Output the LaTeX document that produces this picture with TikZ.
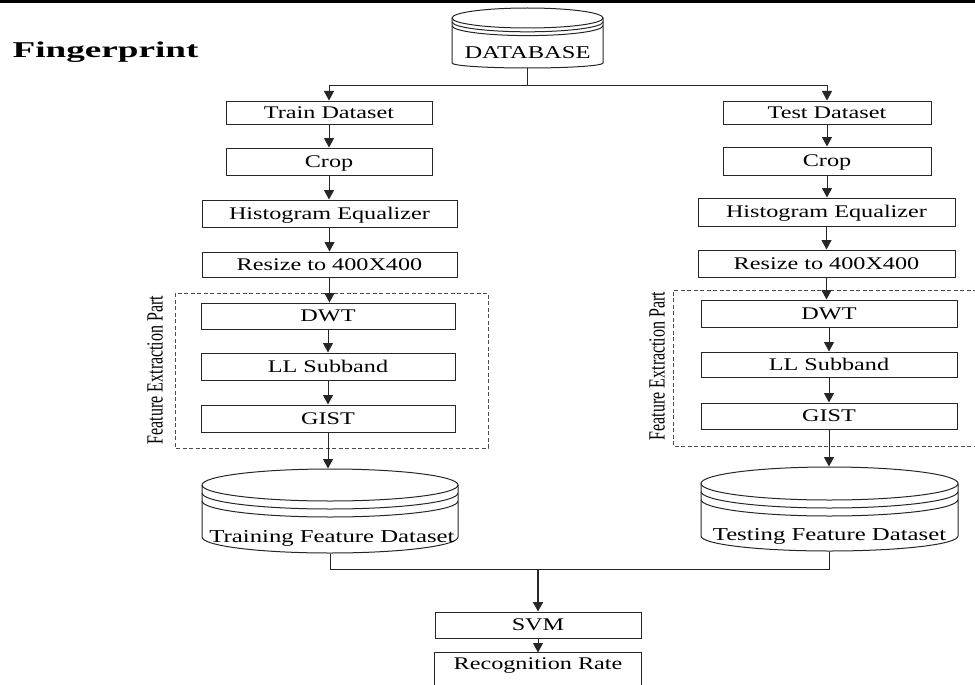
\documentclass[tikz,border=0pt]{standalone}
\usepackage{fontspec}
\setmainfont{Liberation Serif}[FakeStretch=1.36]
\newfontfamily\plainserif{Liberation Serif}
\usetikzlibrary{arrows.meta}
\newcommand\drawcyl[7]{% cx rx yc ry yb ryb d
  \draw (#1-#2,#3) -- (#1-#2,#5) arc[start angle=180,end angle=0,x radius=#2,y radius=#6] -- (#1+#2,#3);
  \draw (#1,#3) ellipse[x radius=#2,y radius=#4];
  \draw (#1-#2,#3+#7) arc[start angle=180,end angle=0,x radius=#2,y radius=#4];
  \draw (#1-#2,#3+2*#7) arc[start angle=180,end angle=0,x radius=#2,y radius=#4];
}
\begin{document}
\begin{tikzpicture}[x=1pt,y=-1pt,
  line width=1pt, draw=black!85,
  box/.style={draw, inner sep=0pt, font=\fontsize{17.8}{20}\selectfont, text height=11.8pt, text depth=0pt},
  arr/.style={-{Triangle[width=10pt,length=9.5pt]}},
  fep/.style={draw=black!70, dash pattern=on 4pt off 2.5pt, line width=0.9pt},
  cyltext/.style={font=\fontsize{18.2}{20}\selectfont, anchor=base, inner sep=0pt},
  lbl/.style={font=\plainserif\fontsize{16}{18}\selectfont, rotate=90, yscale=1.45, inner sep=0pt},
  cylnode/.style={inner sep=0pt, minimum height=84pt},
]
\useasboundingbox (0,0) rectangle (975,685);
\fill (0,0) rectangle (975,3.3);

% title
\node[anchor=base west, font=\bfseries\fontsize{22.6}{26}\selectfont, xscale=1.21, inner sep=0pt] (fp) at (12,58) {Fingerprint};

% database
\drawcyl{527.5}{75.5}{18}{10}{63}{5}{3.8}
\node[inner sep=0pt, minimum width=151pt, minimum height=60pt] (db) at (527.5,38) {};
\node[cyltext, font=\fontsize{18}{20}\selectfont] (dbt) at (527.5,59) {DATABASE};

% left column
\node[box, minimum width=206pt, minimum height=23pt] (train) at (329,112.5) {Train Dataset};
\node[box, minimum width=206pt, minimum height=27pt] (crop1) at (329,161.5) {Crop};
\node[box, minimum width=255pt, minimum height=27pt] (hist1) at (329.5,213.5) {Histogram Equalizer};
\node[box, minimum width=255pt, minimum height=25pt] (res1) at (329.5,264.5) {Resize to 400X400};
\draw[fep] (175,293) rectangle (488,448);
\node[lbl] (fl1) at (155,370) {Feature Extraction Part};
\node[box, minimum width=254pt, minimum height=26pt] (dwt1) at (328,316) {DWT};
\node[box, minimum width=254pt, minimum height=27pt] (ll1) at (328,366.5) {LL Subband};
\node[box, minimum width=254pt, minimum height=27pt] (gist1) at (328,418.5) {GIST};
\drawcyl{330}{128}{485}{16}{537}{16}{8}
\node[cylnode, minimum width=256pt] (tcyl) at (330,511) {};
\node[cyltext] (tct) at (332,542) {Training Feature Dataset};

% right column
\node[box, minimum width=208pt, minimum height=23pt] (test) at (827,112.5) {Test Dataset};
\node[box, minimum width=208pt, minimum height=28pt] (crop2) at (827,161) {Crop};
\node[box, minimum width=257pt, minimum height=28pt] (hist2) at (826.5,212) {Histogram Equalizer};
\node[box, minimum width=257pt, minimum height=27pt] (res2) at (826.5,263.5) {Resize to 400X400};
\draw[fep] (990,290) -- (673,290) -- (673,446) -- (990,446);
\node[lbl] (fl2) at (657,366) {Feature Extraction Part};
\node[box, minimum width=256pt, minimum height=27pt] (dwt2) at (829,313.5) {DWT};
\node[box, minimum width=256pt, minimum height=25pt] (ll2) at (829,364.5) {LL Subband};
\node[box, minimum width=256pt, minimum height=26pt] (gist2) at (829,416) {GIST};
\drawcyl{829.5}{128.5}{483.5}{16.5}{536}{15}{8}
\node[cylnode, minimum width=257pt] (scyl) at (829.5,509) {};
\node[cyltext] (sct) at (829.5,540) {Testing Feature Dataset};

% bottom
\node[box, minimum width=206pt, minimum height=26pt] (svm) at (538,625) {SVM};
\node[box, draw=none, minimum width=206pt, minimum height=22pt] (rec) at (538,664) {Recognition Rate};
\draw ([yshift=-30pt]rec.south west) -- (rec.north west) -- (rec.north east) -- ([yshift=-30pt]rec.south east);

% connectors
\coordinate (j1) at (527.5,86);
\draw (db.south) -- (j1);
\draw[arr] (j1) -| (train.north);
\draw[arr] (j1) -| (test.north);
\draw[arr] (train.south) -- (train.south |- crop1.north);
\draw[arr] (crop1.south) -- (crop1.south |- hist1.north);
\draw[arr] (hist1.south) -- (hist1.south |- res1.north);
\draw[arr] (res1.south) -- (res1.south |- dwt1.north);
\draw[arr] (dwt1.south) -- (dwt1.south |- ll1.north);
\draw[arr] (ll1.south) -- (ll1.south |- gist1.north);
\draw[arr] (gist1.south) -- (gist1.south |- tcyl.north);
\draw[arr] (test.south) -- (test.south |- crop2.north);
\draw[arr] (crop2.south) -- (crop2.south |- hist2.north);
\draw[arr] (hist2.south) -- (hist2.south |- res2.north);
\draw[arr] (res2.south) -- (res2.south |- dwt2.north);
\draw[arr] (dwt2.south) -- (dwt2.south |- ll2.north);
\draw[arr] (ll2.south) -- (ll2.south |- gist2.north);
\draw[arr] (gist2.south) -- (gist2.south |- scyl.north);
\coordinate (j2) at (538,569);
\draw (tcyl.south) |- (j2);
\draw (scyl.south) |- (j2);
\draw[arr, line width=1.8pt] (j2) -- (svm.north);
\draw[arr] (svm.south) -- (rec.north);
\end{tikzpicture}
\end{document}
